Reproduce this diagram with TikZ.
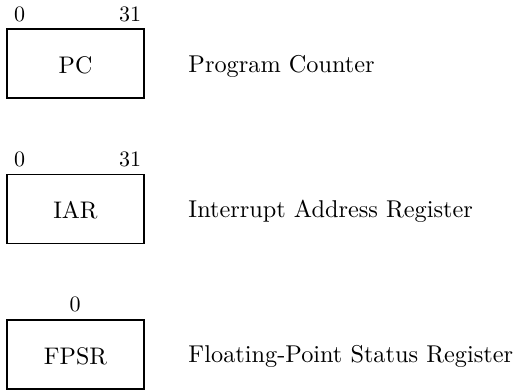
\documentclass[tikz,border=0pt]{standalone}
\begin{document}
\begin{tikzpicture}[x=1pt,y=-1pt,
  reg/.style={draw,line width=1.3pt,minimum width=137pt,minimum height=69pt,inner sep=0pt},
  lab/.style={anchor=base,inner sep=0pt,font=\fontsize{10}{12}\selectfont,scale=2.4,transform shape},
  bit/.style={anchor=base,inner sep=0pt,font=\fontsize{10}{12}\selectfont,scale=2.2,transform shape},
  desc/.style={anchor=base west,inner sep=0pt,font=\fontsize{10}{12}\selectfont,scale=2.43,transform shape}]
\useasboundingbox (0,0) rectangle (515,390);
% PC
\node[reg] (pc) at (75.5,63.5) {};
\node[lab] (pct) at (75.5,74) {PC};
\node[bit] (pc0) at (19.5,21.5) {0};
\node[bit] (pc31) at (130,21.5) {31};
\node[desc] (pcd) at (188,72.5) {Program Counter};
% IAR
\node[reg] (iar) at (75.5,209) {};
\node[lab] (iart) at (75.5,219) {IAR};
\node[bit] (iar0) at (19.5,166.5) {0};
\node[bit] (iar31) at (130,166.5) {31};
\node[desc] (iard) at (188,217.5) {Interrupt Address Register};
% FPSR
\node[reg] (fpsr) at (75.5,354.5) {};
\node[lab] (fpsrt) at (75.5,365) {FPSR};
\node[bit] (fpsr0) at (75,312) {0};
\node[desc] (fpsrd) at (188,363) {Floating-Point Status Register};
\end{tikzpicture}
\end{document}
